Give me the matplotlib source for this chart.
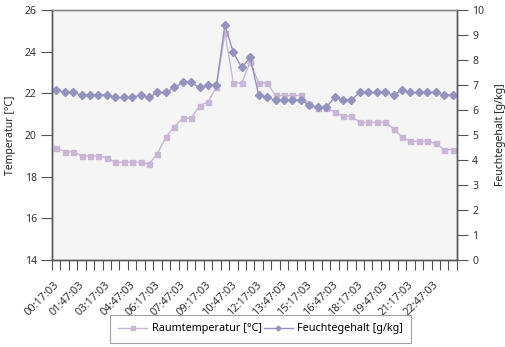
import matplotlib.pyplot as plt
import numpy as np

plt.rcParams['font.family'] = ['Noto Sans', 'DejaVu Sans']
plt.rcParams['font.size'] = 7.5

# half-hourly readings over one day
times = ['%02d:%02d:03' % (h, m) for h in range(24) for m in (17, 47)]

temperatur = [19.4, 19.2, 19.2, 19.0, 19.0, 19.0, 18.9, 18.7, 18.7, 18.7, 18.7, 18.6,
              19.1, 19.9, 20.4, 20.8, 20.8, 21.4, 21.6, 22.3, 24.9, 22.5, 22.5, 23.5,
              22.5, 22.5, 21.9, 21.9, 21.9, 21.9, 21.5, 21.3, 21.3, 21.1, 20.9, 20.9,
              20.6, 20.6, 20.6, 20.6, 20.3, 19.9, 19.7, 19.7, 19.7, 19.6, 19.3, 19.3]

feuchte = [6.8, 6.7, 6.7, 6.6, 6.6, 6.6, 6.6, 6.5, 6.5, 6.5, 6.6, 6.5,
           6.7, 6.7, 6.9, 7.1, 7.1, 6.9, 7.0, 7.0, 9.4, 8.3, 7.7, 8.1,
           6.6, 6.5, 6.4, 6.4, 6.4, 6.4, 6.2, 6.1, 6.1, 6.5, 6.4, 6.4,
           6.7, 6.7, 6.7, 6.7, 6.6, 6.8, 6.7, 6.7, 6.7, 6.7, 6.6, 6.6]

c_temp = '#c9b5d6'
c_feuchte = '#9592bf'
axis_col = '#555555'

fig = plt.figure(figsize=(5.06, 3.47), dpi=100)
ax = fig.add_axes([0.1028, 0.2507, 0.8, 0.7205])
ax.set_facecolor('#f5f5f5')
ax2 = ax.twinx()

x = np.arange(len(times))
l1, = ax.plot(x, temperatur, color=c_temp, lw=1, marker='s', ms=3.6, mec=c_temp)
l2, = ax2.plot(x, feuchte, color=c_feuchte, lw=1, marker='D', ms=3.6, mec=c_feuchte)

ax.set_xlim(-0.5, len(times) - 0.5)
ax.set_ylim(14, 26)
ax.set_yticks(range(14, 27, 2))
ax2.set_ylim(0, 10)
ax2.set_yticks(range(0, 11))

# tick marks on the category boundaries
ax.set_xticks(np.arange(-0.5, len(times)), labels=[])
ax.tick_params(axis='x', length=7, color=axis_col, width=0.8)
for i, t in enumerate(ax.xaxis.get_major_ticks()):
    if i % 3 == 1:
        t.tick1line.set_color('#aaaaaa')

# time labels every 1.5 hours, slanted below the axis
for i in x[::3]:
    ax.annotate(times[i], xy=(i - 0.3, 0), xycoords=('data', 'axes fraction'),
                xytext=(0, -14), textcoords='offset points',
                rotation=45, ha='right', va='top', rotation_mode='anchor',
                fontsize=8, color='#333333', annotation_clip=False)

ax.tick_params(axis='y', length=8, color=axis_col, width=0.8, labelcolor='#333333', pad=3)
ax2.tick_params(axis='y', length=8, color=axis_col, width=0.8, labelcolor='#333333', pad=3)

for a in (ax, ax2):
    for s in ('left', 'right', 'bottom'):
        a.spines[s].set_color(axis_col)
        a.spines[s].set_linewidth(1)
    a.spines['top'].set_color('#888888')
    a.spines['top'].set_linewidth(1)

ax.set_ylabel('Temperatur [°C]', color='#222222', labelpad=6)
ax2.set_ylabel('Feuchtegehalt [g/kg]', color='#222222', labelpad=8)

leg = fig.legend([l1, l2], ['Raumtemperatur [°C]', 'Feuchtegehalt [g/kg]'],
                 loc='center', bbox_to_anchor=(0.515, 0.052), ncol=2,
                 handlelength=2.7, handletextpad=0.4, columnspacing=0.2,
                 fancybox=False, borderpad=0.75, markerscale=0.7, fontsize=7.8)
leg.get_frame().set_edgecolor('#888888')
leg.get_frame().set_linewidth(0.8)

fig.savefig('out.png', dpi=100)
